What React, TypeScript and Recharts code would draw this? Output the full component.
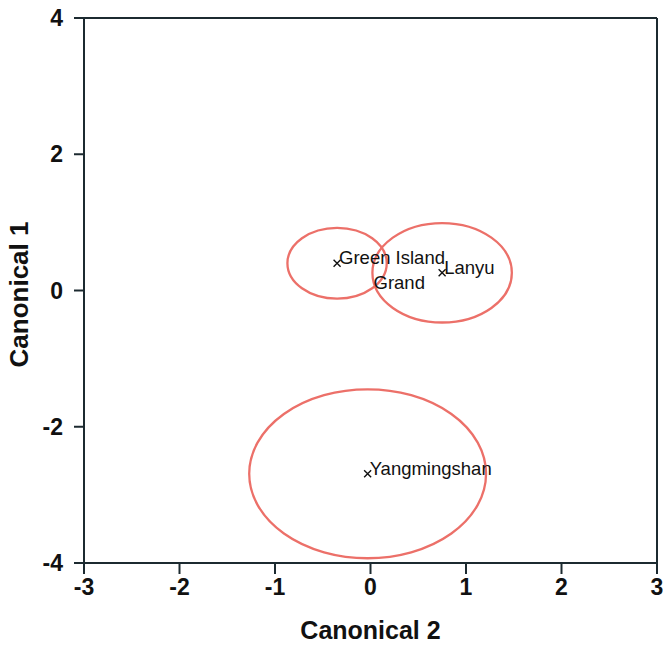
import React from "react";
import {
  ReferenceLine,
  Scatter,
  ScatterChart,
  XAxis,
  YAxis,
} from "recharts";

// group centroids on the two canonical axes + circle radius (data units)
const groups = ["Green Island", "Lanyu", "Yangmingshan", "Grand"];
const canonical2 = [-0.35, 0.75, -0.03, 0.0];
const canonical1 = [0.4, 0.26, -2.69, 0.0];
const radius = [0.52, 0.73, 1.24, 0];
const showMarker = [true, true, true, false];

const xTicks = [-3, -2, -1, 0, 1, 2, 3];
const yTicks = [-4, -2, 0, 2, 4];

const W = 663;
const H = 645;
const MARGIN = { top: 18, right: 6, bottom: 0, left: 0 };
const Y_AXIS_W = 84;
const X_AXIS_H = 82;
const PLOT_W = W - MARGIN.left - MARGIN.right - Y_AXIS_W;
const PLOT_H = H - MARGIN.top - MARGIN.bottom - X_AXIS_H;
const PX_X = PLOT_W / (xTicks[xTicks.length - 1] - xTicks[0]);
const PX_Y = PLOT_H / (yTicks[yTicks.length - 1] - yTicks[0]);

const AXIS = "#1c2a30";
const RING = "#ec7069";
const FONT = "'Liberation Sans', Arial, sans-serif";

const points = groups.map((name, i) => ({
  name,
  x: canonical2[i],
  y: canonical1[i],
  r: radius[i],
  marker: showMarker[i],
}));
const rings = points.filter((p) => p.r > 0);

const Ring = (props: any) => {
  const { cx, cy, payload } = props;
  return (
    <ellipse
      cx={cx}
      cy={cy}
      rx={payload.r * PX_X}
      ry={payload.r * PX_Y}
      fill="none"
      stroke={RING}
      strokeWidth={2.3}
    />
  );
};

const Centroid = (props: any) => {
  const { cx, cy, payload } = props;
  const s = 3.5;
  return (
    <g>
      {payload.marker && (
        <path
          d={`M${cx - s},${cy - s}L${cx + s},${cy + s}M${cx - s},${cy + s}L${cx + s},${cy - s}`}
          stroke="#111"
          strokeWidth={1.4}
        />
      )}
      <text
        x={cx + (payload.marker ? 2 : 3)}
        y={cy + (payload.marker ? 1 : -2)}
        fontFamily={FONT}
        fontSize={18.5}
        fill="#111"
      >
        {payload.name}
      </text>
    </g>
  );
};

const XTitle = (props: any) => {
  const { viewBox } = props;
  return (
    <text
      x={viewBox.x + viewBox.width / 2}
      y={639}
      textAnchor="middle"
      fontFamily={FONT}
      fontWeight="bold"
      fontSize={25}
      fill="#111"
    >
      Canonical 2
    </text>
  );
};

const YTitle = (props: any) => {
  const { viewBox } = props;
  const cx = 19;
  const cy = viewBox.y + viewBox.height / 2 + 4;
  return (
    <text
      x={cx}
      y={cy}
      transform={`rotate(-90 ${cx} ${cy})`}
      textAnchor="middle"
      dominantBaseline="central"
      fontFamily={FONT}
      fontWeight="bold"
      fontSize={26}
      fill="#111"
    >
      Canonical 1
    </text>
  );
};

const tickStyle = { fontSize: 23, fontWeight: "bold", fill: "#111", fontFamily: FONT };

export default function App() {
  return (
    <div style={{ position: "absolute", left: 0, top: 0, width: W, height: H, background: "#fff" }}>
      <ScatterChart width={W} height={H} margin={MARGIN}>
        <XAxis
          type="number"
          dataKey="x"
          domain={[-3, 3]}
          ticks={xTicks}
          height={X_AXIS_H}
          tick={tickStyle}
          tickSize={11}
          tickMargin={5}
          stroke={AXIS}
          strokeWidth={2}
          allowDataOverflow
          label={<XTitle />}
        />
        <YAxis
          type="number"
          dataKey="y"
          domain={[-4, 4]}
          ticks={yTicks}
          width={Y_AXIS_W}
          tick={tickStyle}
          tickSize={10}
          tickMargin={11}
          stroke={AXIS}
          strokeWidth={2}
          allowDataOverflow
          label={<YTitle />}
        />
        <ReferenceLine y={4} stroke={AXIS} strokeWidth={2} />
        <ReferenceLine x={3} stroke={AXIS} strokeWidth={2} />
        <Scatter data={rings} shape={<Ring />} isAnimationActive={false} />
        <Scatter data={points} shape={<Centroid />} isAnimationActive={false} />
      </ScatterChart>
    </div>
  );
}
